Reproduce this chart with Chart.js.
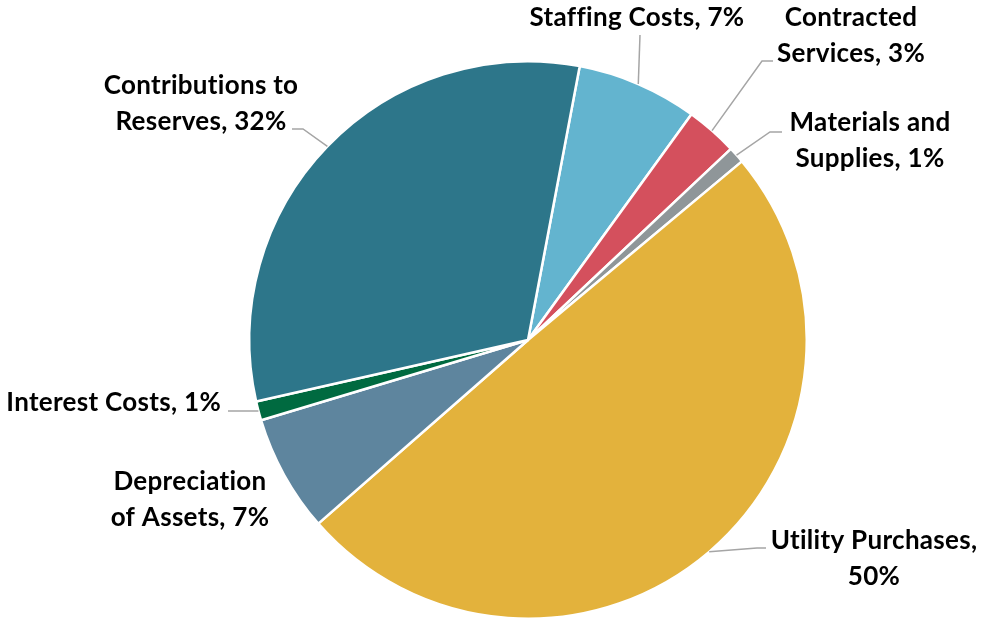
<!DOCTYPE html>
<html>
<head>
<meta charset="utf-8">
<script src="https://cdn.jsdelivr.net/npm/chart.js@4"></script>
<style>
  body { margin: 0; background: #fff; }
  #wrap { width: 983px; height: 620px; position: relative; }
</style>
</head>
<body>
<div id="wrap"><canvas id="grafico_custos"></canvas></div>
<script>
// values (share of total, in %)
const categorias = ['Staffing Costs', 'Contracted Services', 'Materials and Supplies',
  'Utility Purchases', 'Depreciation of Assets', 'Interest Costs', 'Contributions to Reserves'];
const valores = [7.0, 3.0, 0.95, 49.6, 6.8, 1.1, 31.5];
const rotulos = ['Staffing Costs, 7%', 'Contracted\nServices, 3%', 'Materials and\nSupplies, 1%',
  'Utility Purchases,\n50%', 'Depreciation\nof Assets, 7%', 'Interest Costs, 1%', 'Contributions to\nReserves, 32%'];
const cores = ['#63b4cf', '#d4505d', '#8f9699', '#e3b23c', '#5e859e', '#006a40', '#2d768a'];

// where each label sits and how its leader line bends
const posicoes = [
  { x: 637, y: 18, align: 'center', linha: [[640, 35]] },
  { x: 851, y: 18, align: 'center', linha: [[762, 61], [773, 61]] },
  { x: 870, y: 123, align: 'center', linha: [[770, 132], [782, 132]] },
  { x: 874, y: 541, align: 'center', linha: [[757, 548], [766, 548]] },
  { x: 190, y: 482, align: 'center', linha: null },
  { x: 221, y: 403, align: 'right', linha: [[228, 411]] },
  { x: 201, y: 86, align: 'center', linha: [[303, 129], [292, 129]] }
];

const rotulosPlugin = {
  id: 'rotulos',
  afterDatasetsDraw(chart) {
    const c = chart.ctx;
    const arcs = chart.getDatasetMeta(0).data;
    c.save();
    arcs.forEach(function (arc, i) {
      const p = arc.getProps(['x', 'y', 'startAngle', 'endAngle', 'outerRadius'], true);
      const meio = (p.startAngle + p.endAngle) / 2;
      const pos = posicoes[i];
      if (pos.linha) {
        c.strokeStyle = '#a5a5a5';
        c.lineWidth = 1.5;
        c.beginPath();
        c.moveTo(p.x + Math.cos(meio) * p.outerRadius, p.y + Math.sin(meio) * p.outerRadius);
        pos.linha.forEach(function (pt) { c.lineTo(pt[0], pt[1]); });
        c.stroke();
      }
      c.fillStyle = '#000';
      c.font = 'bold 26px Lato';
      c.letterSpacing = '0.3px';
      c.textAlign = pos.align;
      c.textBaseline = 'middle';
      rotulos[i].split('\n').forEach(function (t, k) {
        c.fillText(t, pos.x, pos.y + k * 35.5);
      });
    });
    c.restore();
  }
};

const ctx = document.getElementById('grafico_custos');

new Chart(ctx, {
  type: 'pie',
  data: {
    labels: categorias,
    datasets: [{
      data: valores,
      backgroundColor: cores,
      borderColor: '#ffffff',
      borderWidth: 2.5
    }]
  },
  options: {
    responsive: true,
    maintainAspectRatio: false,
    animation: false,
    rotation: 10.7,
    layout: { padding: { left: 248, right: 175, top: 60, bottom: 0 } },
    plugins: {
      legend: { display: false },
      tooltip: { enabled: false }
    }
  },
  plugins: [rotulosPlugin]
});
</script>
</body>
</html>
